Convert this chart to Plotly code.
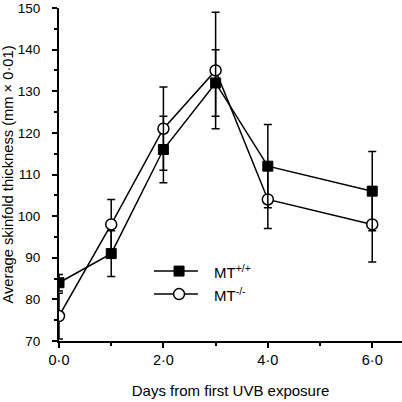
import plotly.graph_objects as go

days = [0, 1, 2, 3, 4, 6]
wt_mean = [84, 91, 116, 132, 112, 106]
wt_err = [2, 5.5, 8, 8, 10, 9.5]
ko_mean = [76, 98, 121, 135, 104, 98]
ko_err = [5.5, 6, 10, 14, 7, 9]
x_ticks = [0, 2, 4, 6]
x_labels = ["0·0", "2·0", "4·0", "6·0"]
y_ticks = [70, 80, 90, 100, 110, 120, 130, 140, 150]
legend_names = ["MT<sup>+/+</sup>", "MT<sup>-/-</sup>"]

font = "Arial, Liberation Sans, Helvetica, sans-serif"

fig = go.Figure()
fig.add_trace(go.Scatter(
    x=days, y=ko_mean, mode="lines+markers", name=legend_names[1],
    line=dict(color="black", width=1.5),
    marker=dict(symbol="circle", size=11, color="white", line=dict(color="black", width=1.5)),
    error_y=dict(type="data", array=ko_err, color="black", thickness=1.5, width=4),
    showlegend=False,
))
fig.add_trace(go.Scatter(
    x=days, y=wt_mean, mode="lines+markers", name=legend_names[0],
    line=dict(color="black", width=1.5),
    marker=dict(symbol="square", size=10, color="black", line=dict(color="black", width=1)),
    error_y=dict(type="data", array=wt_err, color="black", thickness=1.5, width=4),
    showlegend=False,
))
# invisible helper trace that carries the tick-label axis
fig.add_trace(go.Scatter(
    x=days, y=wt_mean, yaxis="y2", mode="markers",
    marker=dict(opacity=0), hoverinfo="skip", showlegend=False,
))

# manual legend (paper coordinates)
leg_x0, leg_x1, leg_xm, leg_tx = 0.277, 0.405, 0.350, 0.445
leg_rows = [0.210, 0.141]
shapes = []
annotations = []
for i, yy in enumerate(leg_rows):
    shapes.append(dict(type="line", xref="paper", yref="paper", x0=leg_x0, x1=leg_x1,
                       y0=yy, y1=yy, line=dict(color="black", width=1.5)))
    if i == 0:
        shapes.append(dict(type="rect", xref="paper", yref="paper", xsizemode="pixel",
                           ysizemode="pixel", xanchor=leg_xm, yanchor=yy,
                           x0=-5, x1=5, y0=-5, y1=5, fillcolor="black",
                           line=dict(color="black", width=1)))
    else:
        shapes.append(dict(type="circle", xref="paper", yref="paper", xsizemode="pixel",
                           ysizemode="pixel", xanchor=leg_xm, yanchor=yy,
                           x0=-5.5, x1=5.5, y0=-5.5, y1=5.5, fillcolor="white",
                           line=dict(color="black", width=1.5)))
    annotations.append(dict(xref="paper", yref="paper", x=leg_tx, y=yy, xanchor="left",
                            yanchor="middle", text=legend_names[i], showarrow=False,
                            font=dict(size=15, family=font, color="black")))

fig.update_layout(
    width=402, height=402,
    margin=dict(l=59, r=0, t=8, b=61),
    paper_bgcolor="white", plot_bgcolor="white",
    font=dict(family=font, size=15, color="black"),
    showlegend=False,
    shapes=shapes, annotations=annotations,
    xaxis=dict(range=[0, 6.57], tickvals=x_ticks, ticktext=x_labels, automargin=False,
               ticklabeloverflow="allow", tickfont=dict(size=14.5),
               showgrid=False, zeroline=False, showline=True, linecolor="black", linewidth=1.5,
               ticks="outside", ticklen=5, tickwidth=1.5, tickcolor="black",
               minor=dict(dtick=1, ticks="outside", ticklen=3, tickwidth=1.5, tickcolor="black"),
               title=dict(text="Days from first UVB exposure", standoff=18, font=dict(size=15))),
    yaxis=dict(range=[70, 150], tickvals=y_ticks, automargin=False, showticklabels=False,
               showgrid=False, zeroline=False, showline=True, linecolor="black", linewidth=1.5,
               ticks="outside", ticklen=5, tickwidth=1.5, tickcolor="black",
               minor=dict(dtick=5, ticks="outside", ticklen=3, tickwidth=1.5, tickcolor="black"),
               title=dict(text="Average skinfold thickness (mm × 0·01)", standoff=36,
                          font=dict(size=14.7))),
    yaxis2=dict(range=[70, 150], tickvals=y_ticks, overlaying="y", side="left",
                automargin=False, ticklabeloverflow="allow", tickfont=dict(size=13.5),
                showgrid=False, zeroline=False, showline=False,
                ticks="outside", ticklen=15, tickwidth=1, tickcolor="rgba(0,0,0,0)"),
)

fig.write_html("out.html", config={"displayModeBar": False},
               post_script="document.body.style.margin='0';")
